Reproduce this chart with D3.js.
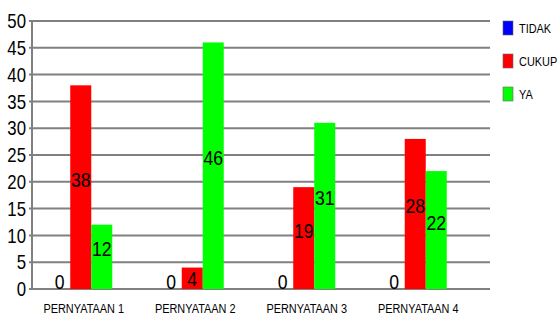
<!DOCTYPE html>
<html>
<head>
<meta charset="utf-8">
<script src="https://cdn.jsdelivr.net/npm/d3@7"></script>
<style>
  body { margin: 0; background: #fff; }
  svg text { font-family: "Liberation Sans", Arial, sans-serif; fill: #000; }
</style>
</head>
<body>
<svg id="chart" width="558" height="315"></svg>
<script>
// data
var categories = ['PERNYATAAN 1', 'PERNYATAAN 2', 'PERNYATAAN 3', 'PERNYATAAN 4'];
var seriesNames = ['TIDAK', 'CUKUP', 'YA'];
var tidak = [0, 0, 0, 0];
var cukup = [38, 4, 19, 28];
var ya = [12, 46, 31, 22];
var yTicks = [0, 5, 10, 15, 20, 25, 30, 35, 40, 45, 50];
var colors = ['#0000ff', '#ff0000', '#00ff00'];

var narrow = 0.84; // condensed look of the original font

var svg = d3.select('#chart');
var plotLeft = 32, plotRight = 490, plotTop = 21, plotBottom = 289;

var y = d3.scaleLinear().domain([0, 50]).range([plotBottom, plotTop]);
var xg = d3.scaleBand().domain(categories).range([25, 471]);
var xs = d3.scaleBand().domain(seriesNames).range([-31.5, 31.5]);

function place(x, y){
    return 'translate(' + x + ',' + y + ') scale(' + narrow + ',1)';
}

// gridlines
svg.append('g').selectAll('line')
    .data(yTicks)
    .enter()
    .append('line')
    .attr('x1', plotLeft - 3)
    .attr('x2', plotRight)
    .attr('y1', function(d){ return y(d) })
    .attr('y2', function(d){ return y(d) })
    .attr('stroke', '#808080')
    .attr('stroke-width', 2);

svg.append('line')
    .attr('x1', plotLeft).attr('x2', plotLeft)
    .attr('y1', plotTop).attr('y2', plotBottom)
    .attr('stroke', '#808080')
    .attr('stroke-width', 2);

// y tick labels
svg.append('g').selectAll('text')
    .data(yTicks)
    .enter()
    .append('text')
    .attr('transform', function(d){ return place(26, y(d)) })
    .attr('dy', '0.36em')
    .attr('text-anchor', 'end')
    .style('font-size', '20px')
    .text(function(d){ return d });

// bars
var rows = categories.map(function(c, i){
    return { cat: c, vals: [tidak[i], cukup[i], ya[i]] };
});

var groups = svg.append('g').selectAll('g')
    .data(rows)
    .enter()
    .append('g')
    .attr('transform', function(d){
        return 'translate(' + (xg(d.cat) + xg.bandwidth() / 2) + ',0)';
    });

groups.selectAll('rect')
    .data(function(d){ return d.vals })
    .enter()
    .append('rect')
    .attr('x', function(d, i){ return xs(seriesNames[i]) })
    .attr('width', xs.bandwidth())
    .attr('y', function(d){ return y(d) })
    .attr('height', function(d){ return y(0) - y(d) })
    .attr('fill', function(d, i){ return colors[i] });

// value labels, roughly at bar middle (a bit higher for tall bars)
groups.selectAll('text')
    .data(function(d){ return d.vals })
    .enter()
    .append('text')
    .attr('transform', function(d, i){
        var v = d > 10 ? d / 2 + 1.5 : Math.max(d / 2, 1.5);
        return place(xs(seriesNames[i]) + xs.bandwidth() / 2, y(v));
    })
    .attr('dy', '0.36em')
    .attr('text-anchor', 'middle')
    .style('font-size', '21px')
    .text(function(d){ return d });

// category labels
svg.append('g').selectAll('text')
    .data(categories)
    .enter()
    .append('text')
    .attr('transform', function(d){ return place(xg(d) + xg.bandwidth() / 2 + 3, 313) })
    .attr('text-anchor', 'middle')
    .style('font-size', '13px')
    .text(function(d){ return d });

// legend
var legend = svg.append('g').selectAll('g')
    .data(seriesNames)
    .enter()
    .append('g')
    .attr('transform', function(d, i){ return 'translate(503,' + (21 + i * 33) + ')' });

legend.append('rect')
    .attr('width', 10)
    .attr('height', 14)
    .attr('fill', function(d, i){ return colors[i] })
    .attr('stroke', '#666')
    .attr('stroke-width', 0.6);

legend.append('text')
    .attr('transform', place(16, 11.5))
    .style('font-size', '13px')
    .text(function(d){ return d });
</script>
</body>
</html>
